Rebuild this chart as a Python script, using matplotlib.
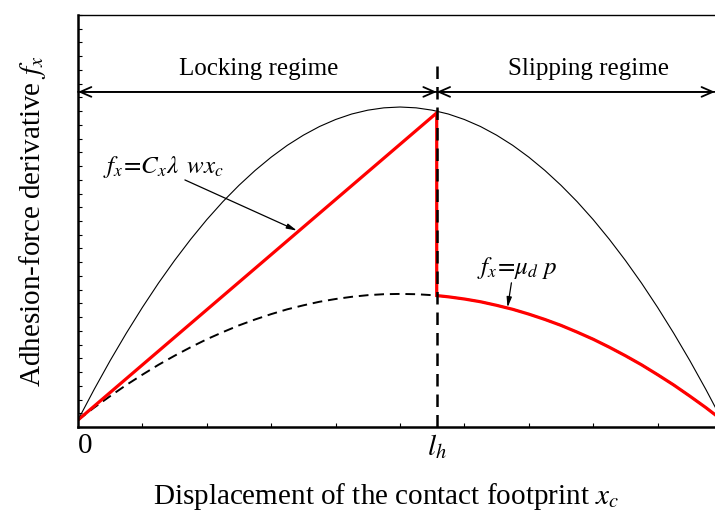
import matplotlib
matplotlib.use("Agg")
import matplotlib.pyplot as plt

plt.rcParams['font.family'] = ['Liberation Serif', 'DejaVu Serif']
plt.rcParams['mathtext.fontset'] = 'stix'

# values (x as fraction of contact length, y in tick units)
x_c = [0.0, 0.025, 0.05, 0.075, 0.1, 0.125, 0.15, 0.175, 0.2, 0.225,
       0.25, 0.275, 0.3, 0.325, 0.35, 0.375, 0.4, 0.425, 0.45, 0.475,
       0.5, 0.525, 0.55, 0.575, 0.6, 0.625, 0.65, 0.675, 0.7, 0.725,
       0.75, 0.775, 0.8, 0.825, 0.85, 0.875, 0.9, 0.925, 0.95, 0.975, 1.0]
f_peak = [0.51, 2.73, 4.84, 6.83, 8.71, 10.48, 12.13, 13.67, 15.10, 16.41,
          17.60, 18.68, 19.65, 20.51, 21.25, 21.88, 22.39, 22.79, 23.07, 23.24,
          23.30, 23.24, 23.07, 22.79, 22.39, 21.88, 21.25, 20.51, 19.65, 18.68,
          17.60, 16.41, 15.10, 13.67, 12.13, 10.48, 8.71, 6.83, 4.84, 2.73, 0.51]
f_slide = [0.51, 1.41, 2.25, 3.06, 3.81, 4.53, 5.19, 5.81, 6.39, 6.91,
           7.40, 7.83, 8.22, 8.57, 8.86, 9.12, 9.32, 9.48, 9.60, 9.67,
           9.69, 9.67, 9.60, 9.48, 9.32, 9.12, 8.86, 8.57, 8.22, 7.83,
           7.40, 6.91, 6.39, 5.81, 5.19, 4.53, 3.81, 3.06, 2.25, 1.41, 0.51]
l_h = 0.557
f_lock_top = 22.87
f_lock_bottom = 9.57

red_x = [0.0, l_h, l_h] + x_c[23:]
red_y = [0.51, f_lock_top, f_lock_bottom] + f_slide[23:]

fig = plt.figure(figsize=(7.15, 5.16), dpi=100)
ax = fig.add_axes([78 / 715, 89 / 516, 644 / 715, 412 / 516])

ax.plot(x_c, f_peak, color='black', lw=0.8)
ax.plot(x_c, f_slide, color='black', lw=1.4, ls=(0, (5, 3)))
ax.plot(red_x, red_y, color='red', lw=2.3, solid_joinstyle='miter')
ax.plot([l_h, l_h], [0, 26.8], color='black', lw=1.8, ls=(0, (5, 3.2)))

ax.set_xlim(0, 1)
ax.set_ylim(0, 30)

# regime arrows
arr_y = 24.4
head = dict(arrowstyle='->,head_length=0.8,head_width=0.35', lw=1.3, color='black',
            shrinkA=0, shrinkB=0)
ax.annotate('', xy=(0, arr_y), xytext=(l_h, arr_y), arrowprops=head)
ax.annotate('', xy=(l_h, arr_y), xytext=(0, arr_y), arrowprops=head)
ax.annotate('', xy=(l_h, arr_y), xytext=(1.0, arr_y), arrowprops=head)
ax.annotate('', xy=(0.989, arr_y), xytext=(l_h, arr_y), arrowprops=head)
ax.text(0.28, 25.3, 'Locking regime', fontsize=18, ha='center', va='bottom')
ax.text(0.792, 25.3, 'Slipping regime', fontsize=18, ha='center', va='bottom')

# formula labels
thin = dict(arrowstyle='-|>,head_length=0.6,head_width=0.15', lw=0.9,
            color='black', shrinkA=0, shrinkB=0)
ax.text(0.133, 18.0, r'$f_x\!=\!C_x\lambda\ \,wx_c$', fontsize=18, ha='center', va='bottom')
ax.annotate('', xy=(0.34, 14.3), xytext=(0.166, 17.99), arrowprops=thin)
ax.text(0.682, 10.6, r'$f_x\!=\!\mu_d\ p$', fontsize=18, ha='center', va='bottom')
ax.annotate('', xy=(0.667, 8.7), xytext=(0.673, 10.5), arrowprops=thin)

# ticks
ax.set_xticks([0, l_h])
ax.set_xticklabels(['0', r'$l_h$'])
ax.set_xticks([i / 10 for i in range(11)], minor=True)
ax.set_yticks([])
ax.set_yticks(range(31), minor=True)
ax.tick_params(axis='x', which='major', length=0, pad=4, labelsize=21)
ax.tick_params(axis='both', which='minor', direction='in', length=3, width=0.8)
ax.get_xticklabels()[0].set_horizontalalignment('left')

for s in ['left', 'bottom']:
    ax.spines[s].set_linewidth(1.8)
ax.spines['top'].set_linewidth(1.0)

ax.set_xlabel(r'Displacement of the contact footprint $x_c$', fontsize=21)
ax.xaxis.set_label_coords(0.478, -0.13)
ax.set_ylabel(r'Adhesion-force derivative $f_x$', fontsize=21)
ax.yaxis.set_label_coords(-0.047, 0.5)

fig.savefig('out.png', dpi=100)
